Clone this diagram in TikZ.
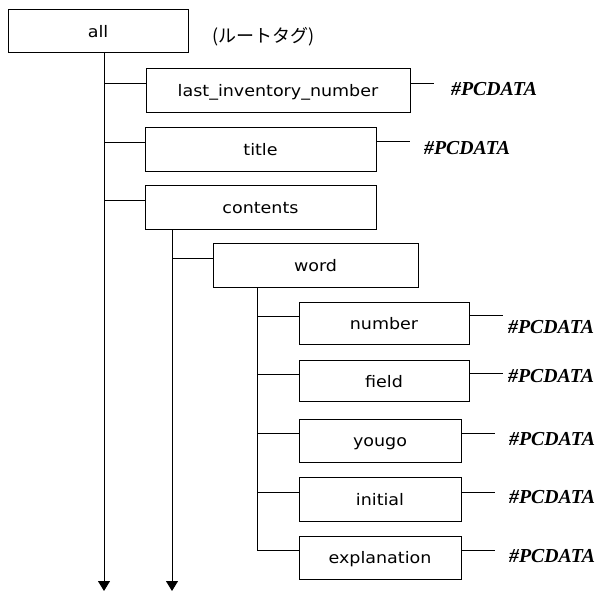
\documentclass[tikz,border=0pt]{standalone}
\usepackage{fontspec}
\usetikzlibrary{arrows.meta}
\newfontfamily\boxfont[FakeStretch=1.1]{DejaVu Sans}
\newfontfamily\jpfont{Noto Sans CJK JP}
\newfontfamily\pcfont[BoldItalicFont={Liberation Serif Bold Italic}]{Liberation Serif}

\tikzset{
  elem/.style={draw, line width=1pt, rectangle, inner sep=0pt,
    font=\boxfont\fontsize{15.9}{18}\selectfont, text height=12pt, text depth=0pt},
  link/.style={line width=0.9pt},
  trunk/.style={line width=0.9pt, -{Triangle[width=12pt,length=10pt]}},
  pcd/.style={anchor=base west, inner sep=0pt,
    font=\pcfont\fontsize{19.8}{22}\selectfont\bfseries\itshape}
}

\begin{document}
\begin{tikzpicture}[x=1pt,y=-1pt]
\useasboundingbox (0,0) rectangle (604,591);

% element boxes
\node[elem, minimum width=180pt, minimum height=43pt] (all) at (98,31.5) {all};
\node[elem, minimum width=264pt, minimum height=43pt] (last) at (278,90.5) {last\_inventory\_number};
\node[elem, minimum width=231pt, minimum height=44pt] (title) at (260.5,149) {title};
\node[elem, minimum width=231pt, minimum height=44pt] (contents) at (260.5,207) {contents};
\node[elem, minimum width=205pt, minimum height=44pt] (word) at (315.5,265) {word};
\node[elem, minimum width=170pt, minimum height=42pt] (number) at (384,323) {number};
\node[elem, minimum width=170pt, minimum height=41pt] (field) at (384,381) {field};
\node[elem, minimum width=162pt, minimum height=43pt] (yougo) at (380,440.5) {yougo};
\node[elem, minimum width=162pt, minimum height=44pt] (initial) at (380,499) {initial};
\node[elem, minimum width=162pt, minimum height=43pt] (explanation) at (380,557.5) {explanation};

\node[anchor=base, inner sep=0pt, font=\jpfont\fontsize{18}{20}\selectfont] (root) at (263.5,43) {(ルートタグ)};

% trunks
\coordinate (aEnd) at (104,591);
\coordinate (bEnd) at (172,591);
\coordinate (cEnd) at (257,550);
\draw[trunk] (all.south -| aEnd) -- (aEnd);
\draw[trunk] (contents.south -| bEnd) -- (bEnd);
\draw[link] (word.south -| cEnd) -- (cEnd);

% branches from the trunks to the child elements
\foreach \child/\tr in {last/aEnd, title/aEnd, contents/aEnd, word/bEnd,
    number/cEnd, field/cEnd, yougo/cEnd, initial/cEnd, explanation/cEnd} {
  \coordinate (j-\child) at ([yshift=7pt]\child.west);
  \draw[link] (j-\child -| \tr) -- (j-\child);
}

% leaf lines and #PCDATA labels
\coordinate (e-last) at (434,83);
\coordinate (e-title) at (410,141);
\coordinate (e-number) at (503,315);
\coordinate (e-field) at (503,373);
\coordinate (e-yougo) at (495,433);
\coordinate (e-initial) at (495,492);
\coordinate (e-explanation) at (495,550);
\foreach \child in {last,title,number,field,yougo,initial,explanation} {
  \draw[link] (\child.east |- e-\child) -- (e-\child);
}

\node[pcd] (p1) at (451,95.5) {\#PCDATA};
\node[pcd] (p2) at (424,154.5) {\#PCDATA};
\node[pcd] (p3) at (508,333.5) {\#PCDATA};
\node[pcd] (p4) at (508,382.5) {\#PCDATA};
\node[pcd] (p5) at (509,445.5) {\#PCDATA};
\node[pcd] (p6) at (509,503.5) {\#PCDATA};
\node[pcd] (p7) at (509,562.5) {\#PCDATA};
\end{tikzpicture}
\end{document}
